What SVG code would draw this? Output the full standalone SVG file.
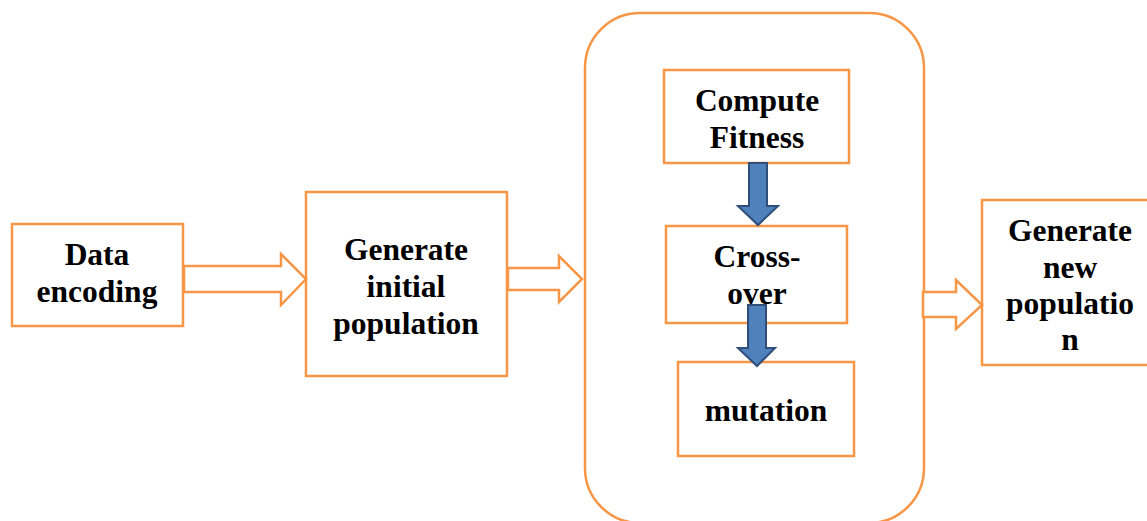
<svg xmlns="http://www.w3.org/2000/svg" width="1147" height="521" viewBox="0 0 1147 521">
<style>
.box{fill:#FFFFFF;stroke:#F79646;stroke-width:2.5}
.hollow{fill:#FFFFFF;stroke:#F79646;stroke-width:2.5;stroke-linejoin:miter}
.blue{fill:#4F81BD;stroke:#2F4F7A;stroke-width:2}
.t{font-family:"Liberation Serif","Times New Roman",serif;font-weight:bold;font-size:31.5px;fill:#000000;text-anchor:middle}
</style>
<rect width="1147" height="521" fill="#FFFFFF"/>
<g id="loop">
<rect class="box" x="585" y="13" width="339" height="510" rx="55" ry="55"/>
</g>
<g id="data-encoding">
<rect class="box" x="12" y="224" width="171" height="102"/>
<text class="t" x="97" y="265">Data</text>
<text class="t" x="97" y="302">encoding</text>
</g>
<g id="generate-initial">
<rect class="box" x="306" y="192" width="201" height="184"/>
<text class="t" x="406" y="260">Generate</text>
<text class="t" x="406" y="297">initial</text>
<text class="t" x="406" y="334">population</text>
</g>
<g id="compute-fitness">
<rect class="box" x="664" y="70" width="185" height="93"/>
<text class="t" x="757" y="111">Compute</text>
<text class="t" x="757" y="148">Fitness</text>
</g>
<g id="crossover">
<rect class="box" x="666" y="226" width="181" height="97"/>
<text class="t" x="757" y="267">Cross-</text>
<text class="t" x="757" y="304">over</text>
</g>
<g id="mutation">
<rect class="box" x="678" y="362" width="176" height="94"/>
<text class="t" x="766" y="421">mutation</text>
</g>
<g id="generate-new">
<rect class="box" x="982" y="200" width="175" height="165"/>
<text class="t" x="1070" y="241">Generate</text>
<text class="t" x="1070" y="278">new</text>
<text class="t" x="1070" y="314">populatio</text>
<text class="t" x="1070" y="350">n</text>
</g>
<g id="connectors">
<polygon class="hollow" points="184,266 281,266 281,254 306,279 281,305 281,292 184,292"/>
<polygon class="hollow" points="508,268 559,268 559,256 582,279 559,302 559,290 508,290"/>
<polygon class="hollow" points="923,292 956,292 956,280 982,305 956,329 956,317 923,317"/>
<polygon class="blue" points="749,163 767,163 767,206 778,206 758,225 738,206 749,206"/>
<polygon class="blue" points="748,305 766,305 766,348 775,348 757,366 738,348 748,348"/>
</g>
</svg>
